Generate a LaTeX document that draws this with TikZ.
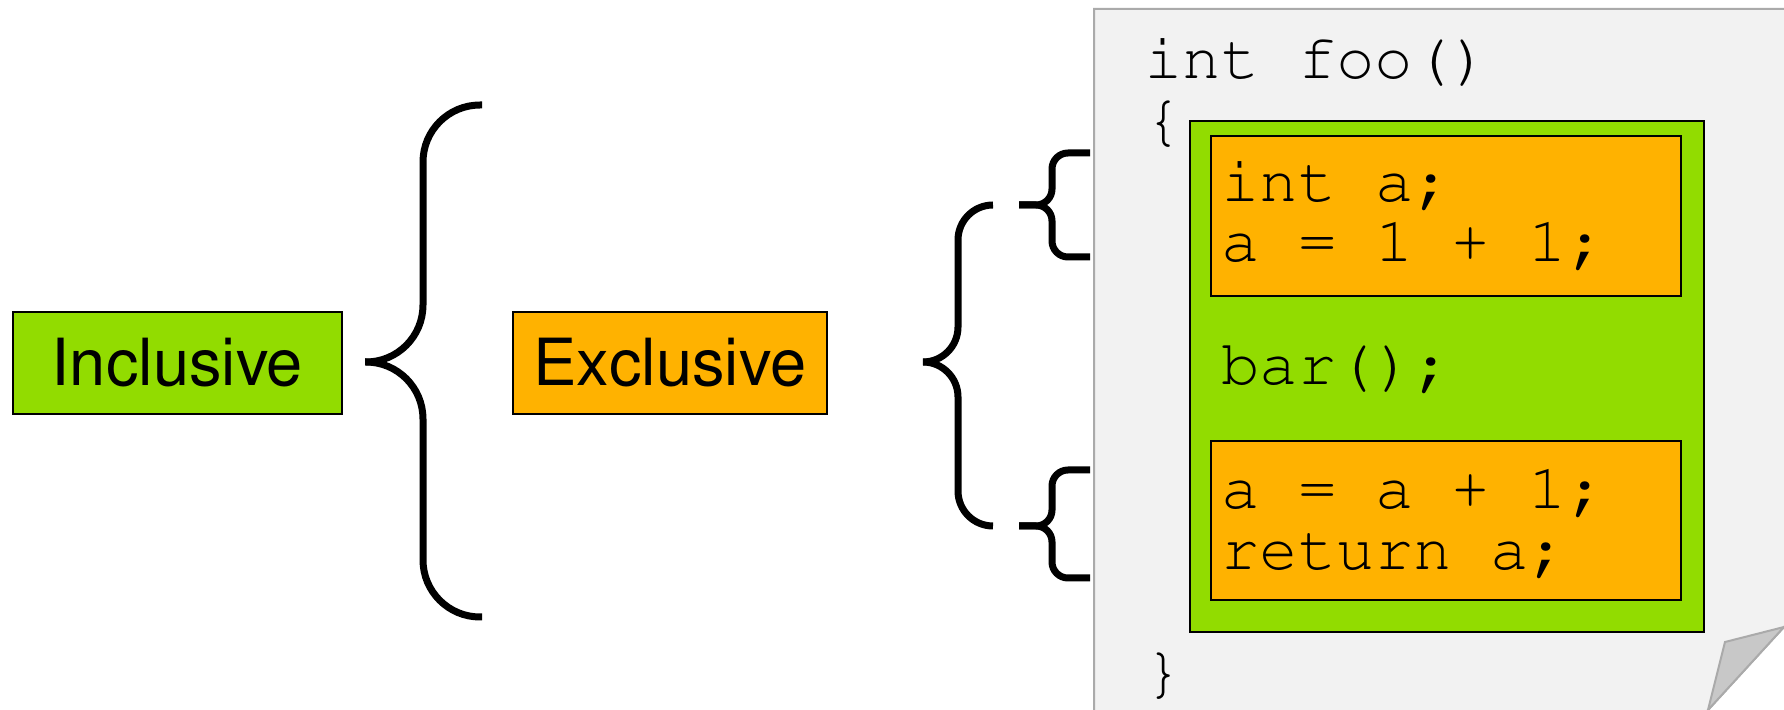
\documentclass[tikz,border=0pt]{standalone}
\usepackage[T1]{fontenc}
\usepackage{helvet}
\usepackage{courier}

\definecolor{incgreen}{RGB}{146,220,0}
\definecolor{excorange}{RGB}{255,178,0}
\definecolor{pagegray}{RGB}{242,242,242}
\definecolor{foldgray}{RGB}{200,200,200}
\definecolor{edgegray}{RGB}{170,170,170}

\newcommand{\labelfont}{\fontfamily{phv}\fontsize{32.5pt}{39pt}\selectfont}
\newcommand{\codefont}{\fontfamily{pcr}\fontsize{32pt}{30.5pt}\selectfont}

\tikzset{
	label box/.style={draw=black, line width=1.2pt, inner sep=0pt,
		minimum width=164.5pt, minimum height=51pt, font=\labelfont},
	code box/.style={draw=black, line width=1pt, inner sep=0pt},
	code/.style={anchor=base west, inner sep=0pt, font=\codefont},
	brace/.style={line width=3.5pt},
	sheet/.style={draw=edgegray, line width=1pt},
}

\begin{document}
\begin{tikzpicture}[x=0.5pt, y=-0.5pt]
		\clip (0,0) rectangle (1784,710);
		% the page with its folded corner
		\draw [sheet, fill=pagegray] (1094,716) -- (1094,9) -- (1790,9) -- (1790,620.4) -- (1702.5,716) -- cycle;
		\draw [sheet, fill=foldgray] (1725,642) -- (1784,627) -- (1708,710) -- cycle;
		% the two kinds
		\node [label box, fill=incgreen] (incl) at (177.5,363) {Inclusive};
		\node [label box, fill=excorange, minimum width=157pt] (excl) at (670,363) {Exclusive};
		% braces
		\draw [brace, rounded corners=28.5pt] (482,105) -- (423,105) -- (423,362) -- (365,362);
		\draw [brace, rounded corners=28.5pt] (365,362) -- (423,362) -- (423,617) -- (482,617);
		\draw [brace, rounded corners=17.5pt] (993,205) -- (958,205) -- (958,362) -- (923,362);
		\draw [brace, rounded corners=17.5pt] (923,362) -- (958,362) -- (958,526) -- (993,526);
		\foreach \t/\m/\b in {153/205/257, 470/526/578} {
			\draw [brace, rounded corners=8pt] (1090,\t) -- (1052,\t) -- (1052,\m) -- (1019,\m);
			\draw [brace, rounded corners=8pt] (1019,\m) -- (1052,\m) -- (1052,\b) -- (1090,\b);
		}
		% the function body
		\node [code box, fill=incgreen, minimum width=257pt, minimum height=255.5pt] (body) at (1447,376.5) {};
		\node [code box, fill=excorange, minimum width=235pt, minimum height=80.25pt] (first) at (1446,216) {};
		\node [code box, fill=excorange, minimum width=235pt, minimum height=79.5pt] (second) at (1446,520.5) {};
		\node [code] (sig) at (1144,79) {int foo()};
		\node [code] (open) at (1144,140) {\{};
		\node [code] (close) at (1144,692) {\}};
		\node [code] (decl) at (1221,202) {int a;};
		\node [code] (init) at (1221,262) {a = 1 + 1;};
		\node [code] (call) at (1221,385) {bar();};
		\node [code] (incr) at (1221,509) {a = a + 1;};
		\node [code] (ret) at (1221,570) {return a;};
\end{tikzpicture}
\end{document}
